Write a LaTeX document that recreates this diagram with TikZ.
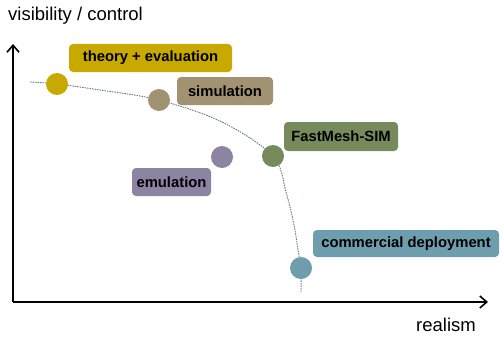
\documentclass[tikz,border=0pt]{standalone}
\usepackage{fontspec}
\setmainfont{Liberation Sans}
\usetikzlibrary{arrows.meta}
\definecolor{cgold}{HTML}{C8A900}
\definecolor{csim}{HTML}{A19371}
\definecolor{cfast}{HTML}{768A5C}
\definecolor{cemu}{HTML}{8B84A3}
\definecolor{ccom}{HTML}{6E9EAD}
\definecolor{ccurve}{HTML}{66748F}
\begin{document}
\begin{tikzpicture}[x=1pt,y=-1pt,
  lbl/.style={rounded corners=4pt, font=\bfseries\fontsize{14.8}{16}\selectfont, text=black, inner sep=0pt},
  dot/.style={circle, minimum size=22pt, inner sep=0pt},
  axis/.style={line width=2pt, -{Straight Barb[length=7pt,width=12pt,line width=1.6pt]}},
  axlbl/.style={font=\fontsize{18.5}{20}\selectfont, inner sep=0pt, anchor=base west},
  curve/.style={ccurve, line width=0.9pt, dash pattern=on 1.5pt off 1pt}]
\useasboundingbox (0,0) rectangle (502,337);
% axes
\coordinate (O) at (13,302);
\coordinate (ytop) at (13,44);
\coordinate (xend) at (488,302);
\draw[axis] (O) -- (ytop);
\draw[axis] (O) -- (xend);
\node[axlbl] (ylab) at (8,21) {visibility / control};
\node[axlbl] (xlab) at (416,331) {realism};
% curve points
\coordinate (cs) at (30,82);
\coordinate (pth) at (57,84);
\coordinate (psim) at (159,100);
\coordinate (pfm) at (273,156);
\coordinate (pcom) at (301,268);
\coordinate (ce) at (301,292);
\coordinate (pemu) at (222,157);
\draw[curve] plot[smooth, tension=0.55] coordinates {(cs) (pth) (100,90) (psim) (222,122) (pfm) (286,192) (294,225) (298,250) (pcom) (ce)};
% dots
\node[dot, fill=cgold] (dth) at (pth) {};
\node[dot, fill=csim] (dsim) at (psim) {};
\node[dot, fill=cfast] (dfm) at (pfm) {};
\node[dot, fill=cemu] (demu) at (pemu) {};
\node[dot, fill=ccom] (dcom) at (pcom) {};
% labels
\node[lbl, fill=cgold, minimum width=163pt, minimum height=28pt] (lth) at (150.5,58) {theory + evaluation};
\node[lbl, fill=csim, minimum width=96pt, minimum height=28pt] (lsim) at (225,91) {simulation};
\node[lbl, fill=cfast, minimum width=114pt, minimum height=29pt] (lfm) at (341,136.5) {FastMesh-SIM};
\node[lbl, fill=cemu, minimum width=79pt, minimum height=28pt] (lemu) at (171.5,182) {emulation};
\node[lbl, fill=ccom, minimum width=186pt, minimum height=27pt] (lcom) at (406,243.5) {commercial deployment};
\end{tikzpicture}
\end{document}
